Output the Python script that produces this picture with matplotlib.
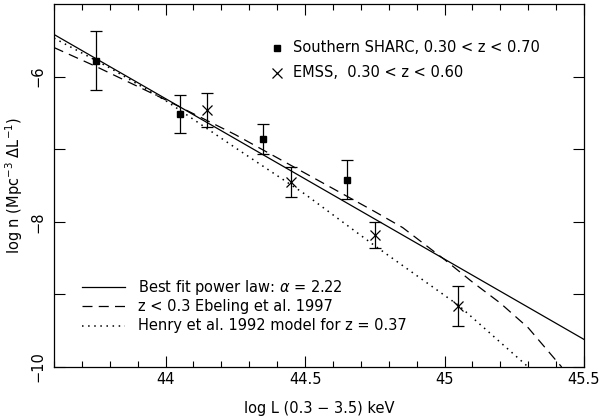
import matplotlib
matplotlib.use("Agg")
import matplotlib.pyplot as plt
from matplotlib.ticker import MultipleLocator, FixedLocator

# Southern SHARC, 0.30 < z < 0.70
sharc_logL = [43.75, 44.05, 44.35, 44.65]
sharc_logn = [-5.78, -6.52, -6.86, -7.42]
sharc_err = [0.41, 0.26, 0.21, 0.27]

# EMSS, 0.30 < z < 0.60
emss_logL = [44.15, 44.45, 44.75, 45.05]
emss_logn = [-6.46, -7.45, -8.18, -9.16]
emss_err = [0.24, 0.21, 0.18, 0.27]

# best fit power law (alpha = 2.22)
fit_logL = [43.6, 45.5]
fit_logn = [-5.42, -9.62]

# Ebeling et al. 1997, z < 0.3
ebel_logL = [43.6, 43.75, 44.0, 44.25, 44.5, 44.75, 44.85, 45.0, 45.1, 45.2, 45.3, 45.42]
ebel_logn = [-5.60, -5.86, -6.32, -6.80, -7.33, -7.86, -8.08, -8.52, -8.83, -9.12, -9.46, -10.0]

# Henry et al. 1992 model, z = 0.37
henry_logL = [43.6, 43.8, 44.0, 44.25, 44.5, 44.75, 45.05, 45.3]
henry_logn = [-5.47, -5.88, -6.33, -6.98, -7.62, -8.33, -9.15, -10.0]

plt.rcParams["font.family"] = ["DejaVu Sans"]

fig = plt.figure(figsize=(6.01, 4.20), dpi=100)
ax = fig.add_axes([0.0899, 0.1262, 0.8818, 0.8643])

lw = 0.9
ax.plot(fit_logL, fit_logn, "k-", lw=lw)
ax.plot(ebel_logL, ebel_logn, color="k", ls=(0, (8, 5)), lw=lw)
ax.plot(henry_logL, henry_logn, color="k", ls=(0, (1, 3)), lw=1.1)

ax.errorbar(sharc_logL, sharc_logn, yerr=sharc_err, fmt="s", color="k",
            ms=5, capsize=4, elinewidth=0.9, capthick=0.9)
ax.errorbar(emss_logL, emss_logn, yerr=emss_err, fmt="x", color="k",
            ms=7, mew=0.9, capsize=4, elinewidth=0.9, capthick=0.9)

ax.set_xlim(43.6, 45.5)
ax.set_ylim(-10, -5)

ax.xaxis.set_major_locator(FixedLocator([44, 44.5, 45, 45.5]))
ax.xaxis.set_minor_locator(MultipleLocator(0.1))
ax.set_xticklabels(["44", "44.5", "45", "45.5"])
ax.yaxis.set_major_locator(FixedLocator([-10, -9, -8, -7, -6]))
ax.set_yticklabels(["\u221210", "", "\u22128", "", "\u22126"], rotation=90, va="center")
ax.tick_params(which="both", direction="in", top=True, right=True, width=0.8, labelsize=10.5)
ax.tick_params(which="major", length=8)
ax.tick_params(which="minor", length=4)
ax.tick_params(axis="y", pad=6)
for s in ax.spines.values():
    s.set_linewidth(0.9)

ax.set_xlabel("log L (0.3 \u2212 3.5) keV", fontsize=10.5, labelpad=10)
ax.set_ylabel("log n (Mpc$^{-3}$ \u0394L$^{-1}$)", fontsize=10.5, labelpad=4)

# upper legend (data)
ax.plot([44.40], [-5.605], "s", color="k", ms=5)
ax.text(44.455, -5.605, "Southern SHARC, 0.30 < z < 0.70", fontsize=10.5, va="center")
ax.plot([44.40], [-5.95], "x", color="k", ms=7, mew=0.9)
ax.text(44.455, -5.95, "EMSS,  0.30 < z < 0.60", fontsize=10.5, va="center")

# lower legend (models)
ax.plot([43.70, 43.855], [-8.9, -8.9], "k-", lw=lw)
ax.text(43.90, -8.9, "Best fit power law: $\\alpha$ = 2.22", fontsize=10.5, va="center")
ax.plot([43.70, 43.855], [-9.16, -9.16], color="k", ls=(0, (8, 5)), lw=lw)
ax.text(43.90, -9.16, "z < 0.3 Ebeling et al. 1997", fontsize=10.5, va="center")
ax.plot([43.70, 43.855], [-9.43, -9.43], color="k", ls=(0, (1, 3)), lw=1.1)
ax.text(43.90, -9.43, "Henry et al. 1992 model for z = 0.37", fontsize=10.5, va="center")

fig.savefig("out.png", dpi=100)
